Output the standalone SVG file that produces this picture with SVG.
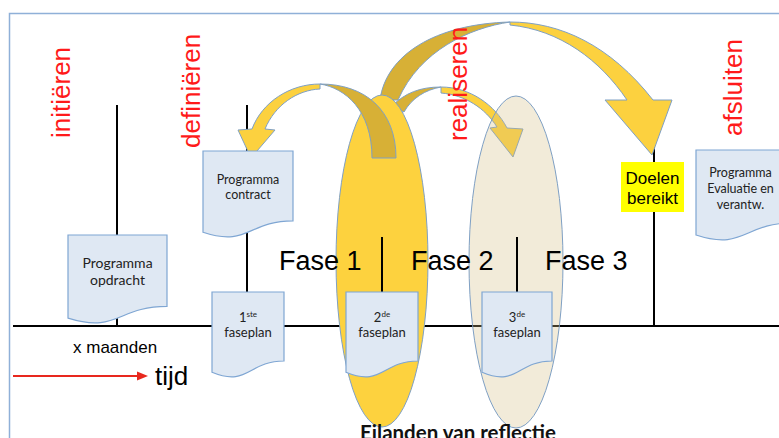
<svg xmlns="http://www.w3.org/2000/svg" width="779" height="438" viewBox="0 0 779 438">
  <style>
    .frame { fill: none; stroke: #8fb0d8; stroke-width: 1.5; }
    .axis { stroke: #000; stroke-width: 2; fill: none; }
    .doc { fill: #dfe8f3; stroke: #7fa6d3; stroke-width: 1.2; }
    .doctxt { font-family: Lato, "Open Sans", sans-serif; fill: #222; text-anchor: middle; }
    .phase { font-family: "Liberation Sans", Arial, sans-serif; font-size: 26px; fill: #ff1a1a; }
    .fase { font-family: "Liberation Sans", Arial, sans-serif; font-size: 27px; fill: #000; }
    .front { fill: #fcd13f; stroke: #7fa0c4; stroke-width: 1; stroke-linejoin: round; }
    .back { fill: #d7b036; stroke: #7fa0c4; stroke-width: 1; stroke-linejoin: round; }
    .sup { font-size: 8px; }
  </style>

  <!-- outer frame -->
  <rect class="frame" x="9.5" y="13.5" width="800" height="460"/>

  <!-- time axis and milestone lines -->
  <g id="timeline">
    <line class="axis" x1="13" y1="326" x2="779" y2="326"/>
    <line class="axis" x1="117" y1="105" x2="117" y2="326"/>
    <line class="axis" x1="247" y1="105" x2="247" y2="326"/>
    <line class="axis" x1="654" y1="106" x2="654" y2="326"/>
  </g>

  <!-- curved arrows behind the first island -->
  <g id="connectors">
    <g id="arrow-goals">
      <path class="back" d="M380,100 C386,55 435,24 510,22 C470,28 420,50 398,100 Z"/>
      <path class="front" d="M510,22 C560,22 610,45 653,100 L672,100 L652,155 L605,100 L627,100 C600,60 560,30 510,25 Z"/>
    </g>
    <g id="arrow-phase2">
      <path class="back" d="M392,106 C405,93 420,87 441,87 C425,90 412,98 404,112 Z"/>
      <path class="front" d="M441,87 C470,87 495,105 507,128 L523,129 L513,157 L490,128 L497,127 C485,108 465,95 441,93 Z"/>
    </g>
  </g>

  <!-- island 1 -->
  <g id="island-1">
    <ellipse cx="382" cy="261" rx="46" ry="166" fill="#fdd23e" stroke="#7fa0c4" stroke-width="1"/>
  </g>

  <g id="arrow-back">
    <path class="back" d="M396,158 C396,110 365,84 320,84 C345,88 372,110 372,158 Z"/>
    <path class="front" d="M320,84 C290,84 262,102 252,129 L238,130 L251,158 L275,130 L265,129 C275,105 297,90 320,89 Z"/>
  </g>

  <!-- island 2 -->
  <g id="island-2">
    <ellipse cx="516" cy="262" rx="47" ry="166" fill="#d4bc80" fill-opacity="0.3" stroke="#7fa0c4" stroke-width="1"/>
  </g>

  <g id="phase-lines">
    <line class="axis" x1="382" y1="237" x2="382" y2="300"/>
    <line class="axis" x1="517" y1="237" x2="517" y2="300"/>
  </g>

  <!-- documents -->
  <g id="doc-opdracht">
    <path class="doc" d="M68,235 H167 V306.4 C117.5,306.4 117.5,333.6 68,318.1 Z"/>
    <text class="doctxt" font-size="14" x="117.5" y="268">Programma</text>
    <text class="doctxt" font-size="14" x="117.5" y="285">opdracht</text>
  </g>
  <g id="doc-contract">
    <path class="doc" d="M203,151 H293 V220.8 C248,220.8 248,247.4 203,232.3 Z"/>
    <text class="doctxt" font-size="12.5" x="248" y="184">Programma</text>
    <text class="doctxt" font-size="12.5" x="248" y="199">contract</text>
  </g>
  <g id="doc-faseplan-1">
    <path class="doc" d="M212,292 H284 V361 C248,361 248,387.3 212,372.3 Z"/>
    <text class="doctxt" font-size="13" x="248" y="322">1<tspan class="sup" dy="-5">ste</tspan></text>
    <text class="doctxt" font-size="13" x="248" y="337">faseplan</text>
  </g>
  <g id="doc-faseplan-2">
    <path class="doc" d="M346,292 H418 V361 C382,361 382,387.3 346,372.3 Z"/>
    <text class="doctxt" font-size="13" x="382" y="322">2<tspan class="sup" dy="-5">de</tspan></text>
    <text class="doctxt" font-size="13" x="382" y="337">faseplan</text>
  </g>
  <g id="doc-faseplan-3">
    <path class="doc" d="M482,292 H552 V361 C517,361 517,387.3 482,372.3 Z"/>
    <text class="doctxt" font-size="13" x="517" y="322">3<tspan class="sup" dy="-5">de</tspan></text>
    <text class="doctxt" font-size="13" x="517" y="337">faseplan</text>
  </g>
  <g id="doc-evaluatie">
    <path class="doc" d="M696,150 H792 V223 C744,223 744,250.8 696,235 Z"/>
    <text class="doctxt" font-size="12.5" x="740.5" y="177">Programma</text>
    <text class="doctxt" font-size="12.5" x="740.5" y="193">Evaluatie en</text>
    <text class="doctxt" font-size="12.5" x="740.5" y="209">verantw.</text>
  </g>

  <!-- goals reached marker -->
  <g id="doelen">
    <rect x="621" y="162" width="63" height="50" fill="#ffff00"/>
    <text font-family="'Liberation Sans', Arial, sans-serif" font-size="17" text-anchor="middle" x="652.5" y="184">Doelen</text>
    <text font-family="'Liberation Sans', Arial, sans-serif" font-size="17" text-anchor="middle" x="652.5" y="204">bereikt</text>
  </g>

  <!-- phase names (vertical) -->
  <g id="phase-names">
    <text class="phase" transform="translate(70,138) rotate(-90)">initiëren</text>
    <text class="phase" transform="translate(200,148) rotate(-90)">definiëren</text>
    <text class="phase" transform="translate(467,141) rotate(-90)">realiseren</text>
    <text class="phase" transform="translate(742,136) rotate(-90)">afsluiten</text>
  </g>

  <g id="fase-labels">
    <text class="fase" x="279" y="270">Fase 1</text>
    <text class="fase" x="411" y="270">Fase 2</text>
    <text class="fase" x="545" y="270">Fase 3</text>
  </g>

  <!-- time legend -->
  <g id="time-legend">
    <text font-family="'Liberation Sans', Arial, sans-serif" font-size="17" x="73" y="353">x maanden</text>
    <line x1="13" y1="376" x2="139" y2="376" stroke="#e8281e" stroke-width="2"/>
    <polygon points="148,376 137,371.5 137,380.5" fill="#e8281e"/>
    <text font-family="'Liberation Sans', Arial, sans-serif" font-size="26" x="155" y="385">tijd</text>
  </g>

  <text id="caption" font-family="Lato, 'Open Sans', sans-serif" font-weight="bold" font-size="20.5" text-anchor="middle" x="458" y="440" fill="#111">Eilanden van reflectie</text>
</svg>
